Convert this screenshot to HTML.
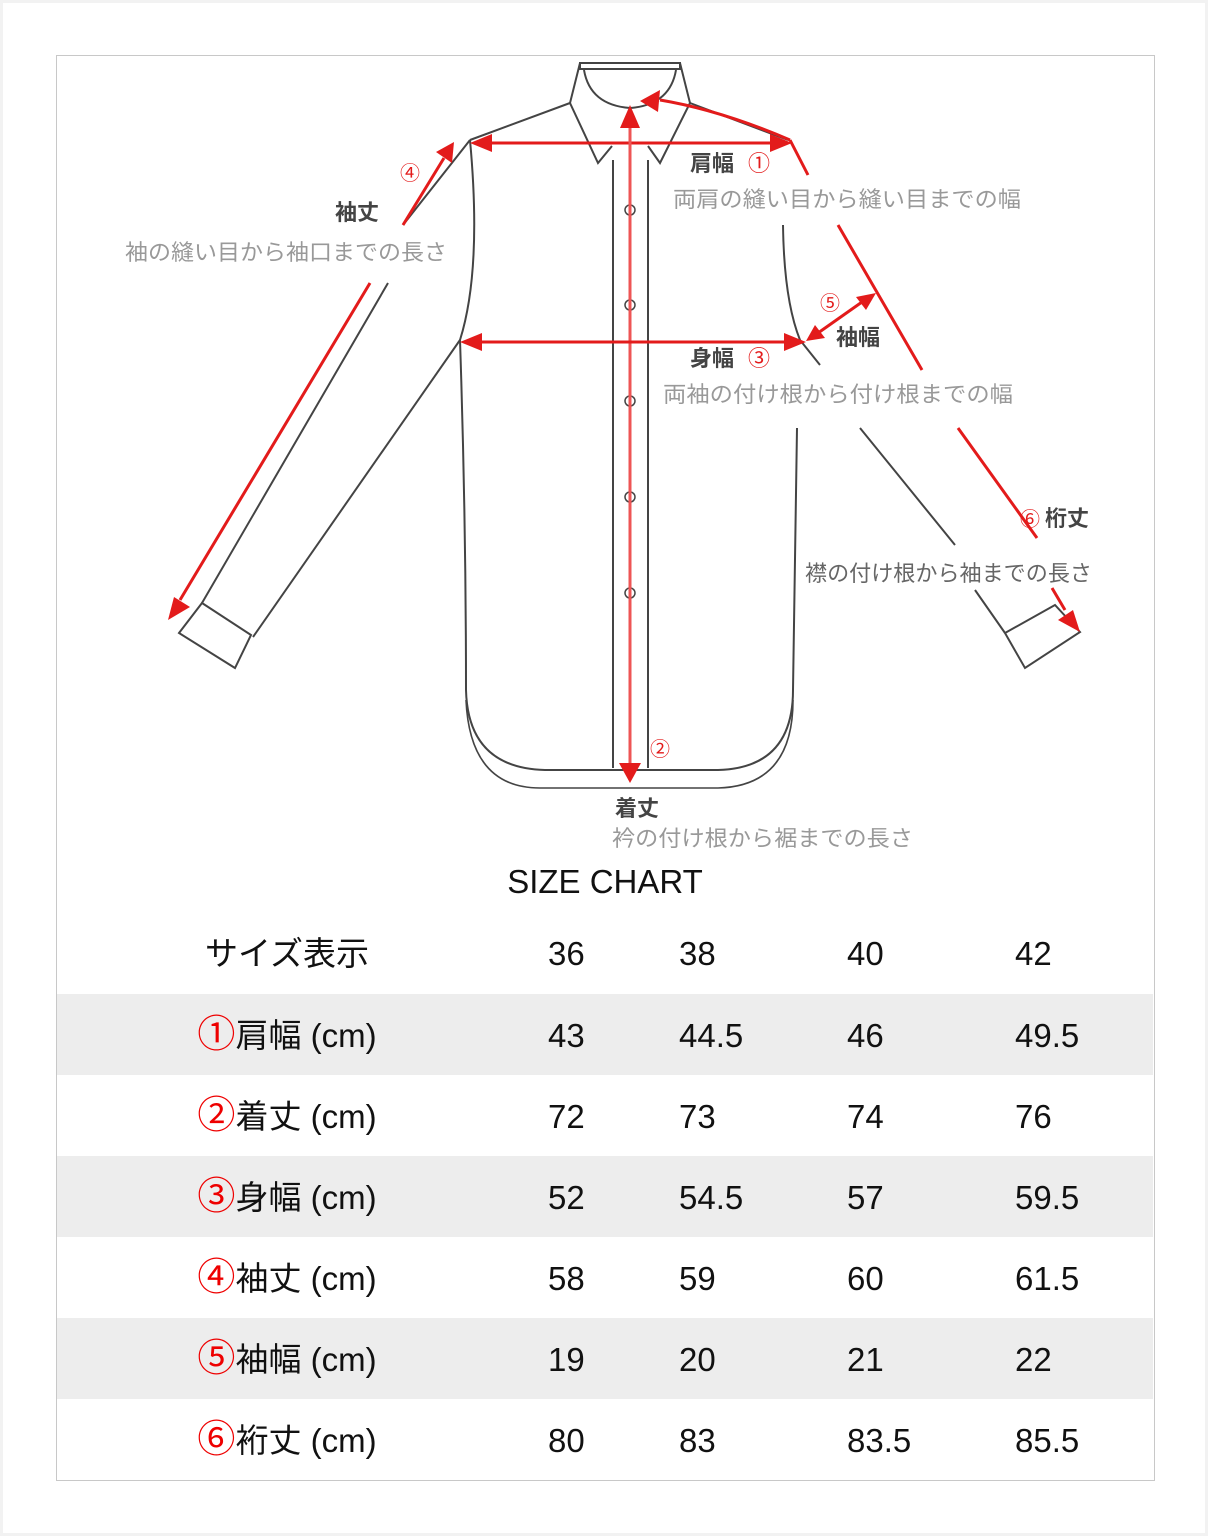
<!DOCTYPE html>
<html><head><meta charset="utf-8"><style>
html,body{margin:0;padding:0;background:#fff}
body{width:1208px;height:1536px;position:relative;overflow:hidden;font-family:"Liberation Sans","Noto Sans CJK JP",sans-serif}
.frame{position:absolute;left:0;top:0;width:1202px;height:1530px;border:3px solid #f2f2f2}
.box{position:absolute;left:56px;top:55px;width:1097px;height:1424px;border:1px solid #c8c8c8}
svg{position:absolute;left:0;top:0}
</style></head><body>
<div class="frame"></div>
<div class="box"></div>
<svg width="1208" height="1536" viewBox="0 0 1208 1536" font-family="Liberation Sans, Noto Sans CJK JP, sans-serif">
<g fill="#ededed">
<rect x="57" y="994" width="1096" height="81"/>
<rect x="57" y="1156" width="1096" height="81"/>
<rect x="57" y="1318" width="1096" height="81"/>
</g>
<g fill="none" stroke="#444" stroke-width="2">
<rect x="580" y="63" width="100" height="6"/>
<path d="M580,63 L570,103 L598,163 L612,146"/>
<path d="M680,63 L690,103 L660,163 L648,146"/>
<path d="M584,70 Q590,105 630,108 Q670,105 676,70"/>
<path d="M570,103 L470,140"/>
<path d="M690,103 L788,140"/>
<path d="M470,140 Q482,270 460,340 Q466,520 466,690 Q468,768 545,770 L718,770 Q793,768 793,690 L797,428"/>
<path d="M466,700 Q470,788 540,788 L718,788 Q793,786 793,700" stroke-width="1.6"/>
<path d="M783,225 Q784,300 800,340"/>
<path d="M613,160 L613,768 M648,160 L648,768"/>
<path d="M470,140 L403,225 M388,283 L202,603"/>
<path d="M460,340 L253,637"/>
<path d="M202,603 L251,635 L235,668 L179,633 Z"/>
<path d="M800,340 L820,365 M860,428 L955,545 M975,590 L1005,633"/>
<path d="M1005,633 L1055,605 L1080,632 L1025,668 Z"/>
</g>
<g fill="none" stroke="#444" stroke-width="1.5">
<circle cx="630" cy="210" r="5"/><circle cx="630" cy="305" r="5"/><circle cx="630" cy="401" r="5"/><circle cx="630" cy="497" r="5"/><circle cx="630" cy="593" r="5"/>
</g>
<g stroke="#e31b1b" stroke-width="3" fill="none">
<path d="M490,143 L772,143"/>
<path d="M630,125 L630,765" stroke="#ee5555"/>
<path d="M480,342 L786,342"/>
<path d="M790,140 Q720,110 660,100"/>
<path d="M790,140 L808,175 M838,225 L922,370 M958,428 L1037,538 M1052,588 L1065,610"/>
<path d="M403,225 L444,158 M370,283 L180,600"/>
<path d="M818,333 L862,302"/>
</g>
<g fill="#e31b1b">
<polygon points="470,143 492,134 492,152"/>
<polygon points="792,143 770,134 770,152"/>
<polygon points="630,105 620,128 640,128"/>
<polygon points="630,783 619,763 641,763"/>
<polygon points="460,342 482,333 482,351"/>
<polygon points="806,342 784,333 784,351"/>
<polygon points="640,101 660,90 658,112"/>
<polygon points="454,142 436,152 452,163"/>
<polygon points="168,620 174,597 190,607"/>
<polygon points="806,341 815,325 825,338"/>
<polygon points="876,293 856,297 866,310"/>
<polygon points="1080,632 1058,620 1073,610"/>
</g>
<g font-size="22">
<text x="690" y="171" fill="#444" font-weight="bold">肩幅</text><text x="748" y="171" fill="#e31b1b">①</text>
<text x="673" y="207" fill="#999" textLength="348" lengthAdjust="spacingAndGlyphs">両肩の縫い目から縫い目までの幅</text>
<text x="400" y="180" fill="#e31b1b" font-size="20">④</text>
<text x="335" y="220" fill="#444" font-weight="bold">袖丈</text>
<text x="125" y="260" fill="#999" textLength="322" lengthAdjust="spacingAndGlyphs">袖の縫い目から袖口までの長さ</text>
<text x="690" y="366" fill="#444" font-weight="bold">身幅</text><text x="748" y="366" fill="#e31b1b">③</text>
<text x="663" y="402" fill="#999" textLength="350" lengthAdjust="spacingAndGlyphs">両袖の付け根から付け根までの幅</text>
<text x="820" y="310" fill="#e31b1b" font-size="20">⑤</text>
<text x="836" y="345" fill="#444" font-weight="bold">袖幅</text>
<text x="1020" y="526" fill="#e31b1b" font-size="20">⑥</text><text x="1045" y="526" fill="#444" font-weight="bold">桁丈</text>
<text x="805" y="581" fill="#666" textLength="287" lengthAdjust="spacingAndGlyphs">襟の付け根から袖までの長さ</text>
<text x="650" y="756" fill="#e31b1b" font-size="20">②</text>
<text x="615" y="816" fill="#444" font-weight="bold">着丈</text>
<text x="612" y="846" fill="#999" textLength="301" lengthAdjust="spacingAndGlyphs">衿の付け根から裾までの長さ</text>
</g>
<g font-size="33" fill="#111">
<text x="605" y="893" text-anchor="middle">SIZE CHART</text>
<text x="287" y="965" text-anchor="middle">サイズ表示</text>
<text x="548" y="965">36</text><text x="679" y="965">38</text><text x="847" y="965">40</text><text x="1015" y="965">42</text>
<text x="287" y="1047" text-anchor="middle"><tspan fill="#e00" font-size="38">①</tspan>肩幅 (cm)</text>
<text x="548" y="1047">43</text><text x="679" y="1047">44.5</text><text x="847" y="1047">46</text><text x="1015" y="1047">49.5</text>
<text x="287" y="1128" text-anchor="middle"><tspan fill="#e00" font-size="38">②</tspan>着丈 (cm)</text>
<text x="548" y="1128">72</text><text x="679" y="1128">73</text><text x="847" y="1128">74</text><text x="1015" y="1128">76</text>
<text x="287" y="1209" text-anchor="middle"><tspan fill="#e00" font-size="38">③</tspan>身幅 (cm)</text>
<text x="548" y="1209">52</text><text x="679" y="1209">54.5</text><text x="847" y="1209">57</text><text x="1015" y="1209">59.5</text>
<text x="287" y="1290" text-anchor="middle"><tspan fill="#e00" font-size="38">④</tspan>袖丈 (cm)</text>
<text x="548" y="1290">58</text><text x="679" y="1290">59</text><text x="847" y="1290">60</text><text x="1015" y="1290">61.5</text>
<text x="287" y="1371" text-anchor="middle"><tspan fill="#e00" font-size="38">⑤</tspan>袖幅 (cm)</text>
<text x="548" y="1371">19</text><text x="679" y="1371">20</text><text x="847" y="1371">21</text><text x="1015" y="1371">22</text>
<text x="287" y="1452" text-anchor="middle"><tspan fill="#e00" font-size="38">⑥</tspan>裄丈 (cm)</text>
<text x="548" y="1452">80</text><text x="679" y="1452">83</text><text x="847" y="1452">83.5</text><text x="1015" y="1452">85.5</text>
</g>
</svg>
</body></html>
